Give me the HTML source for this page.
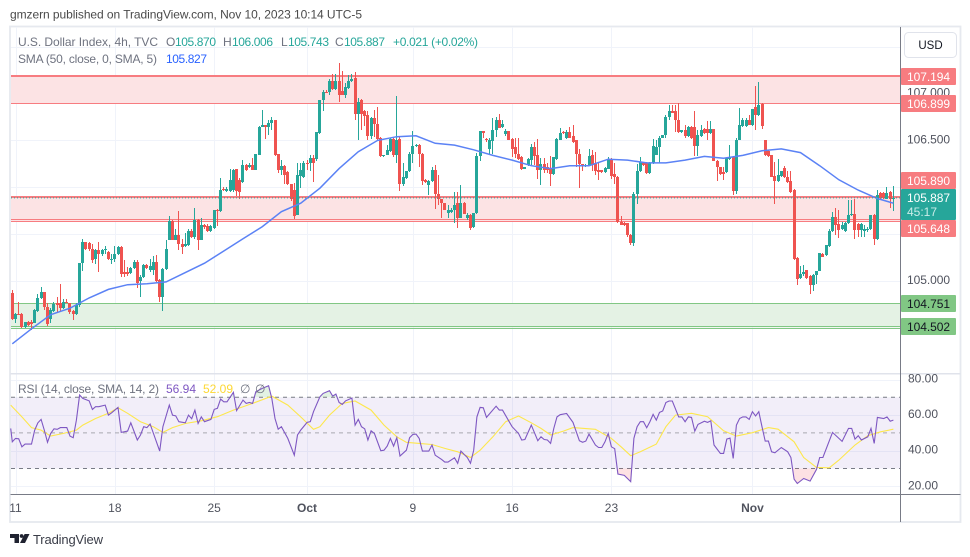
<!DOCTYPE html>
<html>
<head>
<meta charset="utf-8">
<style>
html,body{margin:0;padding:0;background:#fff;width:970px;height:557px;overflow:hidden}
svg{display:block;font-family:"Liberation Sans",sans-serif}
</style>
</head>
<body>
<svg id="chart" width="970" height="557" viewBox="0 0 970 557" xmlns="http://www.w3.org/2000/svg">
<defs>
<clipPath id="pane"><rect x="11" y="27" width="889" height="346"/></clipPath>
<clipPath id="overbought"><rect x="11" y="376" width="889" height="21.3"/></clipPath>
<clipPath id="oversold"><rect x="11" y="468.5" width="889" height="25"/></clipPath>
</defs>
<rect x="0" y="0" width="970" height="557" fill="#fff"/>
<text x="10" y="18.5" font-size="12" fill="#4a4a4a" textLength="352">gmzern published on TradingView.com, Nov 10, 2023 10:14 UTC-5</text>
<rect x="10" y="26.5" width="950.5" height="495.5" fill="#fff" stroke="#e6e9ef" stroke-width="1.8"/>
<g id="grid"></g>
<g>
<rect x="11" y="76" width="889" height="27.5" fill="#fce3e4"/>
<rect x="11" y="75" width="889" height="2" fill="#f77c80"/>
<rect x="11" y="103" width="889" height="1" fill="#f77c80"/>
</g>
<g>
<rect x="11" y="197" width="889" height="24" fill="#fce3e4"/>
<rect x="11" y="196" width="889" height="2" fill="#f77c80"/>
<rect x="11" y="219" width="889" height="1" fill="#f77c80"/>
<rect x="11" y="221" width="889" height="1" fill="#f77c80"/>
</g>
<g>
<rect x="11" y="303.5" width="889" height="24" fill="#e4f2e4"/>
<rect x="11" y="303" width="889" height="1" fill="#81c784"/>
<rect x="11" y="326" width="889" height="1" fill="#81c784"/>
<rect x="11" y="328" width="889" height="1" fill="#81c784"/>
</g>
<g id="candles" clip-path="url(#pane)"></g>
<path id="smaLine" fill="none" stroke="#5b82f5" stroke-width="1.5" clip-path="url(#pane)"/>
<line id="lastPrice" x1="11" x2="900" stroke="#26a69a" stroke-width="1" stroke-dasharray="1 2"/>

<g font-size="12">
<text x="18" y="46" fill="#6f7380" textLength="140">U.S. Dollar Index, 4h, TVC</text>
<text x="166" y="46" fill="#6f7380">O</text>
<text x="175" y="46" fill="#26a69a" textLength="41">105.870</text>
<text x="223" y="46" fill="#6f7380">H</text>
<text x="232" y="46" fill="#26a69a" textLength="41">106.006</text>
<text x="281" y="46" fill="#6f7380">L</text>
<text x="288" y="46" fill="#26a69a" textLength="41">105.743</text>
<text x="335" y="46" fill="#6f7380">C</text>
<text x="344" y="46" fill="#26a69a" textLength="41">105.887</text>
<text x="393" y="46" fill="#26a69a" textLength="85">+0.021 (+0.02%)</text>
<text x="18" y="63" fill="#6f7380" textLength="139">SMA (50, close, 0, SMA, 5)</text>
<text x="166" y="63" fill="#2962ff" textLength="41">105.827</text>
</g>

<g>
<rect x="11" y="397.3" width="889" height="71.2" fill="#7e57c2" fill-opacity="0.1"/>
<g id="rsiGrid"></g>
<path id="rsiOver" fill="#4caf50" fill-opacity="0.16" clip-path="url(#overbought)"/>
<path id="rsiUnder" fill="#f23645" fill-opacity="0.15" clip-path="url(#oversold)"/>
<path id="rsiMaLine" fill="none" stroke="#fde74c" stroke-width="1.1"/>
<path id="rsiLine" fill="none" stroke="#7e57c2" stroke-width="1.1"/>
<text x="18" y="393" font-size="12" fill="#6f7380" textLength="141">RSI (14, close, SMA, 14, 2)</text>
<text x="166" y="393" font-size="12" fill="#7e57c2" textLength="30">56.94</text>
<text x="203" y="393" font-size="12" fill="#fdd835" textLength="30">52.09</text>
<text x="240" y="393" font-size="12" fill="#6f7380">∅</text>
<text x="255" y="393" font-size="12" fill="#6f7380">∅</text>
</g>

<rect x="10.5" y="373" width="950" height="1.5" fill="#e0e3eb"/>
<rect x="10.5" y="494" width="950" height="1" fill="#787b86"/>
<rect x="900" y="27" width="1" height="495" fill="#787b86"/>

<g id="priceAxis"></g>
<g id="timeAxis"></g>

<g font-size="12">
<rect x="901" y="68" width="55" height="17" rx="1" fill="#f77c80"/>
<text x="907" y="81" fill="#fff" textLength="43">107.194</text>
<rect x="901" y="95" width="55" height="17" rx="1" fill="#f77c80"/>
<text x="907" y="108" fill="#fff" textLength="43">106.899</text>
<rect x="901" y="172" width="55" height="17" rx="1" fill="#f77c80"/>
<text x="907" y="185" fill="#fff" textLength="43">105.890</text>
<rect x="901" y="189" width="55" height="31" rx="1" fill="#26a69a"/>
<text x="907" y="202" fill="#fff" textLength="43">105.887</text>
<text x="907" y="216" fill="#c9ecE8" textLength="30">45:17</text>
<rect x="901" y="220" width="55" height="17" rx="1" fill="#f77c80"/>
<text x="907" y="233" fill="#fff" textLength="43">105.648</text>
<rect x="901" y="295" width="55" height="17" rx="1" fill="#81c784"/>
<text x="907" y="308" fill="#131722" textLength="43">104.751</text>
<rect x="901" y="318" width="55" height="17" rx="1" fill="#81c784"/>
<text x="907" y="331" fill="#131722" textLength="43">104.502</text>
</g>

<g>
<rect x="904.5" y="32.5" width="52" height="25" rx="4" fill="#fff" stroke="#e0e3eb"/>
<text x="930.5" y="49" font-size="11.5" fill="#131722" text-anchor="middle">USD</text>
</g>

<g>
<path d="M10 534h9v9h-4.5v-5H10z" fill="#1f2230"/>
<circle cx="21.6" cy="536" r="1.9" fill="#1f2230"/>
<path d="M24.6 534H29.5L25 543h-5z" fill="#1f2230"/>
<text x="33" y="544" font-size="13" fill="#3a3d48" textLength="70">TradingView</text>
</g>
</svg>
<script>
const opens=[104.87,104.59,104.65,104.65,104.51,104.56,104.56,104.55,104.68,104.82,
104.88,104.72,104.59,104.68,104.76,104.76,104.71,104.78,104.76,104.68,
104.65,104.74,105.19,105.42,105.41,105.34,105.23,105.33,105.29,105.33,
105.31,105.23,105.23,105.29,105.36,105.10,105.10,105.09,105.14,105.20,
105.00,105.04,105.17,105.12,105.12,105.20,105.01,104.83,105.13,105.44,
105.64,105.44,105.49,105.40,105.37,105.38,105.53,105.47,105.65,105.44,
105.60,105.59,105.53,105.57,105.76,105.75,105.98,105.96,105.96,105.97,
106.19,106.08,106.06,106.24,106.22,106.24,106.18,106.35,106.64,106.66,
106.64,106.69,106.72,106.36,106.18,106.23,106.16,106.03,105.97,105.70,
106.12,106.11,106.26,106.26,106.31,106.30,106.58,106.93,107.02,107.02,
107.13,107.05,107.13,107.03,106.98,107.06,107.13,107.17,106.78,106.93,
106.81,106.77,106.55,106.74,106.68,106.53,106.33,106.35,106.39,106.52,
106.35,106.52,106.04,106.10,106.17,106.36,106.44,106.45,106.36,106.08,
106.02,106.07,106.18,105.93,105.88,105.83,105.73,105.74,105.76,105.83,
105.67,105.83,105.67,105.70,105.58,105.73,106.33,106.60,106.52,106.41,
106.49,106.61,106.72,106.64,106.57,106.60,106.52,106.43,106.36,106.32,
106.20,106.24,106.29,106.43,106.34,106.18,106.25,106.22,106.21,106.14,
106.30,106.51,106.59,106.53,106.59,106.55,106.50,106.36,106.25,106.23,
106.24,106.34,106.25,106.18,106.18,106.16,106.20,106.30,106.14,106.11,
105.63,105.62,105.62,105.49,105.41,105.93,106.17,106.26,106.26,106.15,
106.26,106.35,106.43,106.53,106.56,106.75,106.81,106.81,106.72,106.59,
106.61,106.55,106.64,106.64,106.44,106.55,106.62,106.62,106.58,106.62,
106.28,106.22,106.16,106.16,106.30,106.32,105.96,106.51,106.65,106.65,
106.72,106.67,106.86,106.77,106.89,106.51,106.39,106.35,106.12,106.07,
106.12,106.21,106.11,106.07,105.97,105.25,105.03,105.07,105.12,105.05,
104.96,105.06,105.11,105.29,105.28,105.37,105.53,105.68,105.61,105.55,
105.53,105.62,105.70,105.72,105.61,105.54,105.53,105.54,105.55,105.70,
105.45,105.94,105.94,105.88,105.95,105.87];
const highs=[104.90,104.66,104.78,104.66,104.56,104.57,104.58,104.70,104.86,104.94,
104.88,104.76,104.71,104.78,104.83,104.97,104.81,104.81,104.77,104.69,
104.76,105.19,105.45,105.42,105.42,105.40,105.34,105.42,105.34,105.37,
105.32,105.29,105.37,105.37,105.37,105.22,105.15,105.15,105.22,105.22,
105.06,105.18,105.18,105.24,105.27,105.28,105.02,105.14,105.44,105.69,
105.65,105.56,105.75,105.45,105.51,105.55,105.55,105.78,105.66,105.67,
105.61,105.61,105.60,105.76,105.77,106.10,106.00,106.00,106.20,106.19,
106.20,106.10,106.29,106.25,106.26,106.31,106.36,106.65,106.83,106.67,
106.72,106.75,106.72,106.36,106.29,106.24,106.17,106.04,106.05,106.26,
106.26,106.28,106.29,106.35,106.34,106.59,106.93,107.04,107.04,107.16,
107.21,107.21,107.33,107.24,107.11,107.20,107.21,107.23,106.95,106.94,
106.83,106.81,106.75,106.83,106.86,106.54,106.35,106.45,106.53,106.53,
106.97,106.54,106.26,106.17,106.38,106.60,106.46,106.46,106.37,106.09,
106.08,106.22,106.24,106.13,105.88,105.83,105.81,105.78,105.95,105.95,
106.02,105.84,105.73,105.72,105.73,106.37,106.60,106.60,106.53,106.53,
106.74,106.75,106.78,106.72,106.62,106.60,106.53,106.53,106.53,106.33,
106.22,106.31,106.46,106.48,106.52,106.31,106.31,106.26,106.33,106.32,
106.53,106.63,106.60,106.61,106.64,106.67,106.50,106.41,106.25,106.25,
106.41,106.40,106.38,106.26,106.18,106.22,106.32,106.31,106.26,106.12,
105.69,105.63,105.62,105.50,105.95,106.25,106.32,106.27,106.27,106.27,
106.52,106.50,106.55,106.56,106.77,106.88,106.88,106.88,106.90,106.61,
106.66,106.65,106.65,106.81,106.61,106.66,106.63,106.71,106.71,106.62,
106.29,106.22,106.22,106.31,106.45,106.33,106.53,106.85,106.74,106.74,
106.77,106.84,107.08,107.12,106.90,106.51,106.40,106.35,106.27,106.30,
106.17,106.23,106.17,106.17,105.98,105.26,105.16,105.17,105.12,105.06,
105.07,105.11,105.30,105.30,105.38,105.55,105.74,105.78,105.76,105.63,
105.63,105.86,105.86,105.87,105.62,105.62,105.60,105.58,105.70,105.71,
105.97,105.95,105.95,106.00,105.96,106.01];
const lows=[104.58,104.55,104.64,104.50,104.50,104.52,104.48,104.55,104.67,104.81,
104.69,104.52,104.55,104.67,104.67,104.67,104.70,104.76,104.65,104.58,
104.64,104.72,105.11,105.33,105.32,105.19,105.18,105.10,105.27,105.29,
105.22,105.18,105.20,105.28,105.04,105.04,105.05,105.08,105.13,104.92,
104.83,105.03,105.13,105.10,105.06,104.99,104.78,104.68,105.12,105.44,
105.44,105.44,105.33,105.29,105.36,105.37,105.46,105.45,105.33,105.44,
105.56,105.52,105.52,105.56,105.59,105.74,105.96,105.95,105.95,105.95,
105.91,105.88,106.05,106.17,106.21,106.18,106.18,106.34,106.64,106.52,
106.56,106.61,106.33,106.15,106.13,106.04,106.02,105.85,105.66,105.70,
105.99,106.10,106.18,106.17,106.06,106.28,106.57,106.81,107.01,106.99,
107.04,107.04,106.91,106.98,106.95,107.05,107.12,106.72,106.51,106.61,
106.65,106.50,106.52,106.54,106.50,106.32,106.32,106.34,106.38,106.32,
106.26,105.96,106.01,106.09,106.16,106.26,106.43,106.22,106.02,106.05,
105.92,106.06,105.77,105.81,105.67,105.76,105.67,105.73,105.62,105.57,
105.67,105.72,105.65,105.54,105.57,105.72,106.28,106.53,106.48,106.36,
106.36,106.54,106.63,106.63,106.55,106.50,106.32,106.31,106.29,106.18,
106.19,106.23,106.24,106.24,106.09,106.02,106.15,106.15,106.01,106.13,
106.29,106.50,106.57,106.52,106.53,106.47,106.22,105.99,106.17,106.22,
106.23,106.17,106.13,106.08,106.15,106.15,106.20,106.09,106.03,105.62,
105.60,105.59,105.47,105.38,105.37,105.82,106.16,106.23,106.14,106.14,
106.25,106.34,106.26,106.53,106.53,106.72,106.79,106.59,106.58,106.58,
106.53,106.54,106.52,106.33,106.33,106.54,106.57,106.51,106.57,106.28,
106.07,106.13,106.08,106.15,106.29,105.92,105.93,106.50,106.64,106.64,
106.66,106.65,106.61,106.76,106.62,106.33,106.32,106.11,105.82,106.06,
106.11,106.10,106.05,105.94,105.22,104.96,105.02,105.05,105.02,104.86,
104.89,104.97,105.11,105.26,105.27,105.36,105.52,105.49,105.46,105.54,
105.52,105.61,105.69,105.45,105.47,105.47,105.47,105.52,105.54,105.38,
105.44,105.88,105.88,105.87,105.78,105.75];
const closes=[104.59,104.65,104.64,104.51,104.56,104.53,104.54,104.69,104.82,104.88,
104.72,104.54,104.69,104.75,104.74,104.71,104.78,104.77,104.67,104.65,
104.74,105.19,105.42,105.34,105.34,105.22,105.33,105.29,105.33,105.34,
105.23,105.24,105.29,105.36,105.08,105.08,105.08,105.14,105.20,104.98,
105.04,105.17,105.14,105.16,105.20,105.00,104.83,105.13,105.34,105.64,
105.44,105.49,105.39,105.36,105.39,105.53,105.47,105.65,105.44,105.60,
105.58,105.53,105.59,105.76,105.75,105.97,105.97,105.98,106.08,106.18,
105.96,105.95,106.24,106.18,106.24,106.18,106.36,106.64,106.66,106.64,
106.69,106.72,106.35,106.18,106.23,106.13,106.03,105.87,105.69,106.13,
106.18,106.26,106.25,106.31,106.26,106.59,106.93,107.02,107.01,107.13,
107.05,107.13,106.98,106.98,107.07,107.13,107.16,106.78,106.91,106.78,
106.76,106.55,106.74,106.68,106.52,106.33,106.35,106.40,106.52,106.35,
106.51,106.03,106.11,106.17,106.36,106.44,106.45,106.36,106.07,106.06,
106.07,106.18,105.93,105.88,105.83,105.76,105.76,105.76,105.81,105.67,
105.83,105.72,105.70,105.57,105.73,106.33,106.60,106.58,106.50,106.50,
106.61,106.72,106.63,106.68,106.60,106.50,106.41,106.36,106.30,106.19,
106.22,106.30,106.43,106.33,106.18,106.25,106.18,106.18,106.14,106.32,
106.52,106.58,106.58,106.59,106.53,106.48,106.36,106.25,106.23,106.24,
106.33,106.24,106.17,106.16,106.16,106.21,106.30,106.12,106.11,105.63,
105.60,105.60,105.49,105.41,105.93,106.17,106.27,106.24,106.15,106.26,
106.44,106.43,106.53,106.56,106.75,106.81,106.79,106.72,106.59,106.61,
106.55,106.64,106.53,106.44,106.56,106.61,106.58,106.58,106.62,106.28,
106.22,106.14,106.14,106.31,106.32,105.96,106.51,106.66,106.72,106.72,
106.67,106.84,106.77,106.88,106.65,106.35,106.33,106.11,106.07,106.13,
106.17,106.11,106.06,105.95,105.23,105.02,105.08,105.10,105.03,104.96,
105.06,105.11,105.30,105.26,105.38,105.53,105.68,105.60,105.54,105.60,
105.62,105.70,105.72,105.54,105.54,105.61,105.55,105.55,105.70,105.45,
105.92,105.89,105.89,105.94,105.87,105.89];
const smaValues=[104.33,104.49,104.64,104.71,104.82,104.91,104.96,104.97,104.99,105.09,
105.19,105.32,105.45,105.58,105.74,105.83,105.99,106.20,106.38,106.50,
106.54,106.55,106.47,106.45,106.40,106.34,106.29,106.23,106.20,106.23,
106.23,106.30,106.29,106.26,106.26,106.29,106.33,106.31,106.34,106.39,
106.41,106.37,106.23,106.08,105.97,105.88,105.83];
const smaBarStep=6;
const rsiBars=[-0.5,0,1,2,3,4,6,7,8,9,10,11,12,13,14,15,17,18,19,20,21,22,24,25,26,27,29,30,31,33,34,36,37,39,40,41,42,43,46,47,49,50,51,52,54,55,56,57,58,59,60,62,63,64,65,66,67,69,70,72,73,74,75,76,78,80,81,82,83,84,86,88,89,90,92,93,94,96,97,99,100,101,102,103,104,106,107,108,109,110,111,112,113,115,116,117,118,119,120,121,123,124,125,126,127,128,130,131,132,134,135,136,138,139,140,141,142,143,144,145,146,147,148,151,152,153,156,158,159,160,162,164,165,166,167,168,169,170,171,173,175,177,178,179,180,182,183,184,185,186,187,188,189,191,193,194,195,196,197,198,199,200,201,202,203,204,205,206,208,209,210,211,212,213,214,216,217,218,219,221,222,223,224,225,226,227,228,229,230,231,232,233,234,235,236,237,238,240,242,243,244,245,247,249,251,252,253,256,259,261,262,263,264,265,267,268,269,270,272,273,274,275];
const rsiValues=[52.5,45,46.9,46.7,42.2,43.7,43.7,51.6,55.7,57.6,51.6,44.7,49.7,52.3,52,53,53,48.2,47.3,57.2,71.3,69.4,68,63.2,64.7,64.7,65.6,60,61.3,64.3,50.3,51,55.7,46,48.8,53.5,53,55,39.8,53.5,65.6,60,59.6,56.3,55.7,60,58,62.8,55.3,59,56.3,57.6,63.2,63.8,69,67.5,67.5,72.8,62.5,68.4,66.6,67.1,66.6,73.1,75,76.5,69.4,58.1,52.1,53.5,46.9,37.5,48.8,51.6,55.9,56.3,61.9,70.3,72.2,73.7,70.7,71.8,67.1,66,68,69.6,54.4,57.6,53.5,52.3,46,51.2,49.7,40,40.3,42.6,46.9,42.6,47.3,37,40.3,47.3,49.1,49.3,46.9,39.8,39.8,43.2,37.5,35.1,33.6,33.6,36,32.9,39.8,37.9,36.2,32.9,40.3,59,64.3,64.1,58.7,65,62.8,62.8,53.5,49.7,46,46.3,54.4,45.6,47.8,46.3,46,44.1,52.5,59,60.2,60.9,55.9,45.6,44.7,45.4,49.3,43.2,41.8,41.8,45,49.7,42.2,41.1,26.9,26.1,22.6,46.9,53.5,56.3,56.3,52.9,56.3,60.4,57.2,61.5,62.3,67.1,67.9,67.9,59,59,56.3,59,58.7,51,54.8,56.6,55.9,56.8,43.2,38.5,38.5,46.5,47.1,35.7,54.4,58.1,59,59,57.6,61.9,59.5,61.9,53.5,45.4,45.4,39.4,38.8,41.8,39.4,36.2,24,21.6,24.4,22.9,29.5,36.2,36.2,50.3,45.2,52.5,52.5,46.5,48.4,46,47.8,52.5,44.1,58.7,58.1,59,56.6,57.2];
const rsiMaBars=[-0.5,3,6,9,12,16,20,22,26,30,33,36,40,44,47,50,54,59,64,69,75,81,86,90,94,96,99,103,107,112,116,120,123,127,131,135,139,143,146,150,154,158,162,165,168,172,175,182,187,190,193,196,201,204,207,212,217,222,226,231,236,239,244,247,251,255,258,263,267,271,275];
const rsiMaValues=[65.6,59,53,51.6,48.2,49.7,51.6,54.4,58.1,61,64.1,61,56.3,53.5,50.3,53,55.3,56.8,59.1,62.8,66.6,70.7,65.6,59,52,53.5,60,66.6,67.9,62.8,54.4,47.8,44.7,44.1,43.5,41.3,39.4,36.2,40.3,47.8,56.3,59.5,55.7,52.5,48.8,51,53,52,46.9,42.2,37.2,39.4,43.7,53.5,60,61,59.1,51.2,48.2,50.1,53,52.1,45,36.2,30.6,30.4,34.7,43.2,48.4,50.6,52.1];
const priceGridTicks=[107.5,107,106.5,106,105.5,105,104.5];
const priceTickLabels=[107,106.5,105];
const rsiGridTicks=[80,60,40,20];
const rsiDashedLevels=[70,50,30];
const timeTickBars=[1,32,63,92,125,156,187,231];
const timeTickLabels=["11","18","25","Oct","9","16","23","Nov"];
const lastPriceValue=105.887;

const NS="http://www.w3.org/2000/svg";
const xScale=i=>12.3+3.204*i;
const yPrice=p=>281-(p-105)*93.7;
const yRsi=v=>486.3-(v-20)*1.78;
function make(tag,parent){const e=document.createElementNS(NS,tag);parent.appendChild(e);return e;}
function pathFrom(xs,ys){return xs.map((x,i)=>(i?"L":"M")+x.toFixed(1)+" "+ys[i].toFixed(1)).join("");}

const grid=document.getElementById("grid");
priceGridTicks.forEach(t=>{
  const l=make("rect",grid);
  
  
  l.setAttribute("x",11);l.setAttribute("width",889);l.setAttribute("y",Math.round(yPrice(t)));l.setAttribute("height",1);l.setAttribute("fill","#f0f3fa");
});
rsiGridTicks.forEach(t=>{
  const l=make("rect",grid);
  
  
  l.setAttribute("x",11);l.setAttribute("width",889);l.setAttribute("y",Math.round(yRsi(t)));l.setAttribute("height",1);l.setAttribute("fill","#f0f3fa");
});
timeTickBars.forEach(b=>{
  const l=make("rect",grid);
  
  
  l.setAttribute("x",Math.round(xScale(b)));l.setAttribute("width",1);l.setAttribute("y",27);l.setAttribute("height",467);l.setAttribute("fill","#f0f3fa");
});

const candles=document.getElementById("candles");
opens.forEach((o,i)=>{
  const c=closes[i],cx=Math.floor(xScale(i)),up=c>=o,col=up?"#26a69a":"#ef5350";
  const wick=make("rect",candles);
  
  
  const wt=Math.round(yPrice(highs[i])),wb=Math.round(yPrice(lows[i]));
  wick.setAttribute("x",cx);wick.setAttribute("width",1);
  wick.setAttribute("y",wt);
  wick.setAttribute("height",Math.max(1,wb-wt));
  wick.setAttribute("fill",col);
  const body=make("rect",candles);
  
  
  const top=Math.round(yPrice(Math.max(o,c))),bot=Math.round(yPrice(Math.min(o,c)));
  body.setAttribute("x",cx-1);body.setAttribute("width",3);
  body.setAttribute("y",top);
  body.setAttribute("height",Math.max(1,bot-top));
  body.setAttribute("fill",col);
});

document.getElementById("smaLine").setAttribute("d",pathFrom(smaValues.map((_,i)=>xScale(Math.min(i*smaBarStep,opens.length-1))),smaValues.map(yPrice)));
const lp=document.getElementById("lastPrice");
lp.setAttribute("y1",yPrice(lastPriceValue));lp.setAttribute("y2",yPrice(lastPriceValue));

const rg=document.getElementById("rsiGrid");
rsiDashedLevels.forEach(v=>{
  const l=make("line",rg);
  
  
  l.setAttribute("x1",11);l.setAttribute("x2",900);l.setAttribute("y1",yRsi(v));l.setAttribute("y2",yRsi(v));
  l.setAttribute("stroke",v===50?"#a8a9b0":"#787b86");l.setAttribute("stroke-width",1);l.setAttribute("stroke-dasharray","4 4");
});
const rx=rsiBars.map(xScale),ry=rsiValues.map(yRsi);
document.getElementById("rsiLine").setAttribute("d",pathFrom(rx,ry));
document.getElementById("rsiMaLine").setAttribute("d",pathFrom(rsiMaBars.map(xScale),rsiMaValues.map(yRsi)));
const firstX=rx[0].toFixed(1),lastX=rx[rx.length-1].toFixed(1);
document.getElementById("rsiOver").setAttribute("d",pathFrom(rx,ry)+"L"+lastX+" "+yRsi(70)+"L"+firstX+" "+yRsi(70)+"Z");
document.getElementById("rsiUnder").setAttribute("d",pathFrom(rx,ry)+"L"+lastX+" "+yRsi(30)+"L"+firstX+" "+yRsi(30)+"Z");

const pa=document.getElementById("priceAxis");
priceTickLabels.forEach(p=>{
  const t=make("text",pa);
  
  
  t.setAttribute("x",907);t.setAttribute("y",yPrice(p)+3);t.setAttribute("font-size",12);t.setAttribute("fill","#50535e");t.setAttribute("textLength",43);
  t.textContent=p.toFixed(3);
});
rsiGridTicks.forEach(v=>{
  const t=make("text",pa);
  
  
  t.setAttribute("x",908);t.setAttribute("y",yRsi(v)+3);t.setAttribute("font-size",12);t.setAttribute("fill","#50535e");
  t.textContent=v.toFixed(2);
});
const ta=document.getElementById("timeAxis");
timeTickLabels.forEach((lab,i)=>{
  const t=make("text",ta);
  
  
  t.setAttribute("x",xScale(timeTickBars[i]));t.setAttribute("y",512);t.setAttribute("font-size",12);t.setAttribute("text-anchor","middle");t.setAttribute("fill","#50535e");
  if(lab==="Oct"||lab==="Nov")t.setAttribute("font-weight","bold");
  t.textContent=lab;
});
</script>
</body>
</html>
